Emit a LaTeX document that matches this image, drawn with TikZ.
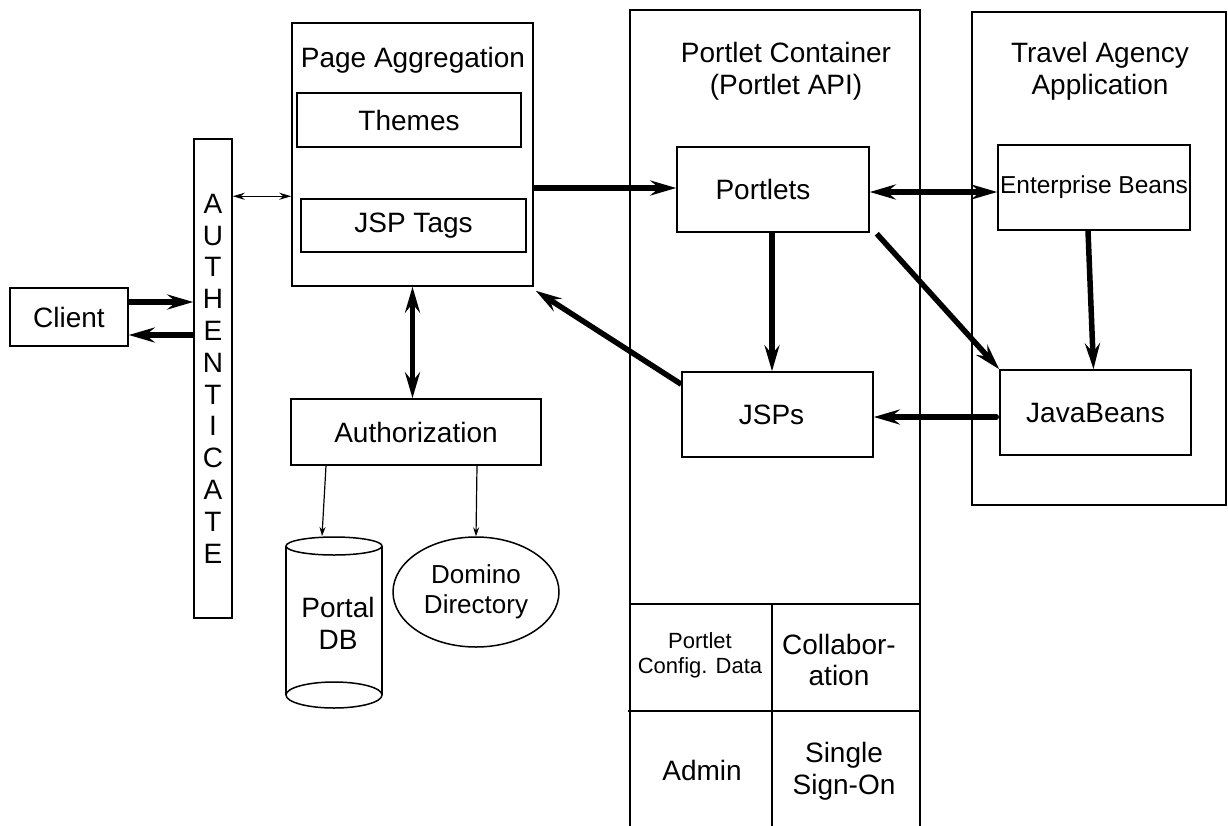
\documentclass[tikz,border=0pt]{standalone}
\usepackage{fontspec}
\setmainfont{Liberation Sans}
\usetikzlibrary{arrows.meta,shapes.geometric}
\begin{document}
\begin{tikzpicture}[x=1pt,y=-1pt,
  box/.style={draw,line width=1.5pt,inner sep=0pt,font=\fontsize{28}{31}\selectfont,align=center},
  lbl/.style={inner sep=0pt,font=\fontsize{28}{32}\selectfont,align=center},
  bigarrow/.style={line width=5.5pt,-{Stealth[length=26pt,width=15pt,inset=9pt]}},
  bigdouble/.style={line width=5.5pt,{Stealth[length=26pt,width=15pt,inset=9pt]}-{Stealth[length=26pt,width=15pt,inset=9pt]}},
  thinarrow/.style={line width=1.2pt,-{Stealth[length=9pt,width=6pt]}},
  thindouble/.style={line width=1.5pt,{Stealth[length=12pt,width=7pt]}-{Stealth[length=12pt,width=7pt]}},
  frame/.style={line width=1.5pt}
]
\useasboundingbox[fill=white] (0,0) rectangle (1228,825);

% containers
\draw[frame] (630,828) -- (630,10) -- (920,10) -- (920,828);
\draw[frame] (972,12) rectangle (1226,505);
\node[lbl] (pctitle) at (786,71) {Portlet Container\\(Portlet API)};
\node[lbl] (tatitle) at (1100,71) {Travel Agency\\Application};

% bottom grid
\draw[frame] (630,604) -- (920,604);
\draw[frame] (628,711) -- (920,711);
\draw[frame] (772,604) -- (772,828);
\node[inner sep=0pt,font=\fontsize{22}{25}\selectfont,align=center] (cfg) at (700,655) {Portlet\\Config. Data};
\node[lbl,font=\fontsize{28}{31}\selectfont] (collab) at (839,660) {Collabor-\\ation};
\node[lbl] (admin) at (702,770) {Admin};
\node[lbl] (sso) at (844,771) {Single\\Sign-On};

% left side
\node[box,minimum width=118pt,minimum height=58pt] (client) at (69,317) {Client};
\node[box,minimum width=38pt,minimum height=479pt,font=\fontsize{28}{31.8}\selectfont] (auth) at (213,378.5)
  {A\\U\\T\\H\\E\\N\\T\\I\\C\\A\\T\\E};

\node[box,minimum width=241pt,minimum height=263pt] (pagg) at (412.5,154.5) {};
\node[lbl] (paggtitle) at (413,60) {Page Aggregation};
\node[box,minimum width=224pt,minimum height=54pt] (themes) at (409,120) {Themes};
\node[box,minimum width=225pt,minimum height=53pt] (jsptags) at (413.5,225.5) {JSP Tags};

\node[box,minimum width=250pt,minimum height=66pt] (authz) at (416,432) {Authorization};

% Portal DB cylinder
\draw[frame] (286,546) -- (286,695);
\draw[frame] (382,546) -- (382,695);
\draw[frame,fill=white] (334,546) ellipse [x radius=48pt, y radius=9pt];
\draw[frame] (334,695) ellipse [x radius=48pt, y radius=13pt];
\coordinate (dbtop) at (322,536);
\node[lbl] (portaldb) at (338,623) {Portal\\DB};

\node[draw,line width=1.5pt,ellipse,minimum width=166pt,minimum height=110pt,inner sep=0pt,
  font=\fontsize{26}{30}\selectfont,align=center] (domino) at (476,592) {Domino\\Directory};

% right boxes
\node[box,minimum width=192pt,minimum height=85pt] (portlets) at (773,189.5) {Portlets\hspace*{20pt}};
\node[box,minimum width=191pt,minimum height=85pt] (jsps) at (777.5,414.5) {JSPs\hspace*{12pt}};
\node[box,minimum width=192pt,minimum height=85pt,font=\fontsize{24.5}{28}\selectfont] (ent) at (1094,187.5) {Enterprise Beans};
\node[box,minimum width=191pt,minimum height=85pt] (java) at (1095.5,412.5) {JavaBeans};

% connector anchors
\coordinate (c1) at ([yshift=15pt]client.east);
\coordinate (c2) at ([yshift=-18pt]client.east);
\coordinate (c3) at ([yshift=-58pt]auth.north east);
\coordinate (c4) at ([yshift=-33.5pt]pagg.east);

% connectors
\draw[bigarrow] (c1) -- (c1 -| auth.west);
\draw[bigarrow] (c2 -| auth.west) -- (c2);
\draw[thindouble] (c3) -- (c3 -| pagg.west);
\draw[bigarrow] (c4) -- (c4 -| portlets.west);
\draw[bigdouble] ([yshift=-2.5pt]portlets.east) -- ([yshift=-2.5pt]portlets.east -| ent.west);
\draw[bigarrow] ([xshift=-1pt]portlets.south) -- ([xshift=-1pt]portlets.south |- jsps.north);
\draw[bigarrow] ([xshift=7pt,yshift=-1pt]portlets.south east) -- (java.north west);
\draw[bigarrow] ([xshift=-6pt]ent.south) -- ([xshift=-2pt]java.north);
\draw[bigarrow,line cap=round] ([xshift=-3pt,yshift=-4.5pt]java.west) -- ([yshift=-2.5pt]jsps.east);
\draw[bigarrow] ([yshift=-13pt]jsps.north west) -- ([xshift=2pt,yshift=-4pt]pagg.south east);
\draw[bigdouble] (pagg.south) -- (pagg.south |- authz.north);
\draw[thinarrow] ([xshift=-90pt]authz.south) -- (dbtop);
\draw[thinarrow] ([xshift=61pt]authz.south) -- (domino.north);
\end{tikzpicture}
\end{document}
